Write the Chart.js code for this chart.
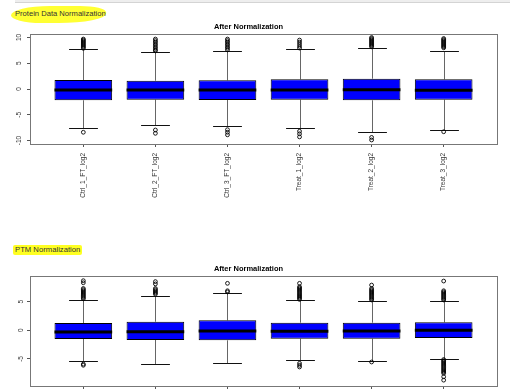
<!DOCTYPE html>
<html>
<head>
<meta charset="utf-8">
<script src="https://cdn.jsdelivr.net/npm/chart.js@4/dist/chart.umd.min.js"></script>
<style>
  html, body { margin: 0; padding: 0; background: #fff; width: 510px; height: 390px; overflow: hidden; }
  body { position: relative; font-family: "Liberation Sans", Arial, sans-serif; }
  .topbar { position: absolute; left: 15px; top: 0; width: 495px; height: 2px; background: #eee; border-bottom: 1px solid #d4d4d4; }
  .hl1 { position: absolute; left: 11px; top: 6px; width: 95px; height: 17px; background: #ffff33; border-radius: 45% 30% 55% 35% / 60% 40% 60% 50%; }
  .hl2 { position: absolute; left: 13px; top: 245px; width: 69px; height: 10px; background: #ffff22; border-radius: 2px; }
  .lbl { position: absolute; color: #333; white-space: nowrap; line-height: 1; }
  canvas { position: absolute; left: 0; }
</style>
</head>
<body>
<div class="topbar"></div>
<div class="hl1"></div>
<div class="lbl" style="left:15px; top:10px; font-size:7.6px;">Protein Data Normalization</div>
<div class="hl2"></div>
<div class="lbl" style="left:15px; top:246px; font-size:7.7px;">PTM Normalization</div>
<canvas id="c1" width="510" height="200" style="top:19px"></canvas>
<canvas id="c2" width="510" height="200" style="top:261px"></canvas>
<script>
const categories = ['Ctrl_1_FT_log2', 'Ctrl_2_FT_log2', 'Ctrl_3_FT_log2', 'Treat_1_log2', 'Treat_2_log2', 'Treat_3_log2'];
const plotTitle = 'After Normalization';

// Protein data normalization
const proteinQ1 = [-2.19, -2.08, -2.14, -2.08, -2.19, -2.08];
const proteinMedian = [-0.19, -0.19, -0.19, -0.19, -0.14, -0.25];
const proteinQ3 = [1.75, 1.61, 1.69, 1.88, 2.0, 1.88];
const proteinWhiskerLow = [-7.51, -6.99, -7.18, -7.63, -8.35, -7.96];
const proteinWhiskerHigh = [7.71, 7.13, 7.38, 7.77, 8.02, 7.44];
const proteinOutliers = [
  [9.7, 9.5, 9.3, 9.1, 8.9, 8.7, 8.5, 8.3, 8.1, 7.9, -8.4],
  [9.7, 9.4, 9.1, 8.8, 8.5, 8.2, 7.9, 7.6, 7.4, -7.96, -8.6],
  [9.7, 9.4, 9.1, 8.8, 8.5, 8.2, 7.9, 7.6, -7.9, -8.4, -8.9],
  [9.5, 9.1, 8.7, 8.3, 7.95, -8.2, -8.7, -9.3],
  [10.0, 9.8, 9.6, 9.4, 9.2, 9.0, 8.8, 8.6, 8.4, 8.2, -9.4, -9.9],
  [9.8, 9.6, 9.4, 9.2, 9.0, 8.8, 8.6, 8.4, 8.2, 8.0, -8.3]
];
const proteinTicks = [-10, -5, 0, 5, 10];

// PTM normalization
const ptmQ1 = [-1.52, -1.69, -1.75, -1.47, -1.47, -1.34];
const ptmMedian = [-0.3, -0.24, -0.12, -0.17, -0.12, 0.0];
const ptmQ3 = [1.27, 1.5, 1.75, 1.33, 1.33, 1.4];
const ptmWhiskerLow = [-5.41, -5.93, -5.65, -5.13, -5.3, -5.0];
const ptmWhiskerHigh = [5.29, 6.04, 6.46, 5.24, 5.17, 5.11];
const ptmOutliers = [
  [8.66, 8.3, 7.3, 7.1, 6.9, 6.7, 6.5, 6.3, 6.1, 5.9, 5.7, 5.5, -5.9, -6.1],
  [8.5, 8.1, 7.3, 7.1, 6.9, 6.7, 6.5, 6.3],
  [8.2, 6.9, 6.7],
  [8.2, 7.6, 7.4, 7.2, 7.0, 6.8, 6.6, 6.4, 6.2, 6.0, 5.8, 5.6, 5.4, -5.76, -6.1, -6.4],
  [7.9, 7.3, 7.1, 6.9, 6.7, 6.5, 6.3, 6.1, 5.9, 5.7, 5.5, 5.3, -5.53],
  [8.6, 6.9, 6.7, 6.5, 6.3, 6.1, 5.9, 5.7, 5.5, 5.3, -5.1, -5.3, -5.5, -5.7, -5.9, -6.1, -6.3, -6.5, -6.7, -6.9, -7.1, -7.3, -7.5, -8.1, -8.7]
];
const ptmTicks = [-5, 0, 5];

const FONT = '"Liberation Sans", Arial, sans-serif';

const boxExtras = {
  id: 'boxExtras',
  beforeDatasetsDraw(chart) {
    const st = chart.$box;
    const yS = chart.scales.y;
    const meta = chart.getDatasetMeta(0);
    const ctx = chart.ctx;
    ctx.save();
    meta.data.forEach((bar, i) => {
      const x = Math.round(bar.x) + 0.5;
      const half = bar.width / 4;
      const yq1 = yS.getPixelForValue(st.q1[i]);
      const yq3 = yS.getPixelForValue(st.q3[i]);
      const ylo = Math.round(yS.getPixelForValue(st.wlo[i])) + 0.5;
      const yhi = Math.round(yS.getPixelForValue(st.whi[i])) + 0.5;
      ctx.strokeStyle = '#666';
      ctx.lineWidth = 1;
      ctx.beginPath();
      ctx.moveTo(x, yq3); ctx.lineTo(x, yhi);
      ctx.moveTo(x, yq1); ctx.lineTo(x, ylo);
      ctx.stroke();
      ctx.strokeStyle = '#111';
      ctx.beginPath();
      ctx.moveTo(x - half, yhi); ctx.lineTo(x + half, yhi);
      ctx.moveTo(x - half, ylo); ctx.lineTo(x + half, ylo);
      ctx.stroke();
    });
    ctx.restore();
  },
  afterDatasetDraw(chart, args) {
    if (args.index !== 0) return;
    const st = chart.$box;
    const yS = chart.scales.y;
    const meta = chart.getDatasetMeta(0);
    const ctx = chart.ctx;
    ctx.save();
    ctx.strokeStyle = '#000';
    ctx.lineWidth = 3;
    meta.data.forEach((bar, i) => {
      const y = yS.getPixelForValue(st.med[i]);
      ctx.beginPath();
      ctx.moveTo(bar.x - bar.width / 2, y);
      ctx.lineTo(bar.x + bar.width / 2, y);
      ctx.stroke();
    });
    ctx.restore();
  },
  afterDraw(chart) {
    const a = chart.chartArea;
    const ctx = chart.ctx;
    ctx.save();
    ctx.strokeStyle = '#777';
    ctx.lineWidth = 1;
    ctx.strokeRect(Math.round(a.left) + 0.5, Math.round(a.top) + 0.5, Math.round(a.right - a.left), Math.round(a.bottom - a.top));
    ctx.restore();
  }
};

function makeChart(id, stats, outliers, yMin, yMax, yTicks) {
  const boxData = categories.map((c, i) => ({ x: i + 1, y: [stats.q1[i], stats.q3[i]] }));
  const outData = [];
  outliers.forEach((list, i) => list.forEach(v => outData.push({ x: i + 1, y: v })));
  const statsPlugin = { id: 'stats', beforeInit(chart) { chart.$box = stats; } };
  return new Chart(document.getElementById(id), {
    type: 'bar',
    data: {
      datasets: [
        {
          type: 'bar',
          data: boxData,
          backgroundColor: '#0000ff',
          borderColor: '#000',
          borderWidth: 1,
          borderSkipped: false,
          barPercentage: 0.8,
          categoryPercentage: 1,
          order: 2
        },
        {
          type: 'scatter',
          data: outData,
          pointRadius: 1.9,
          pointBorderWidth: 0.9,
          pointBorderColor: '#000',
          pointBackgroundColor: 'rgba(255,255,255,0)',
          showLine: false,
          order: 1
        }
      ]
    },
    options: {
      responsive: false,
      animation: false,
      devicePixelRatio: 1,
      layout: { padding: { left: 0, right: 13, top: 0, bottom: 0 } },
      plugins: {
        legend: { display: false },
        tooltip: { enabled: false },
        title: {
          display: true,
          text: plotTitle,
          color: '#000',
          font: { family: FONT, size: 7.5, weight: 'bold', lineHeight: '11px' },
          padding: { top: 2, bottom: 2 }
        }
      },
      scales: {
        x: {
          type: 'linear',
          min: 0.26,
          max: 6.74,
          offset: false,
          afterBuildTicks: s => { s.ticks = categories.map((c, i) => ({ value: i + 1 })); },
          afterFit: s => { s.height = 75; },
          grid: { display: true, offset: false, drawOnChartArea: false, drawTicks: true, tickLength: 3, tickColor: '#555' },
          border: { display: false },
          ticks: {
            autoSkip: false,
            minRotation: 90,
            maxRotation: 90,
            padding: 6,
            color: '#333',
            font: { family: FONT, size: 6.5 },
            callback: v => categories[Math.round(v) - 1]
          }
        },
        y: {
          type: 'linear',
          min: yMin,
          max: yMax,
          afterBuildTicks: s => { s.ticks = yTicks.map(v => ({ value: v })); },
          afterFit: s => { s.width = 30; },
          grid: { display: true, drawOnChartArea: false, drawTicks: true, tickLength: 3, tickColor: '#555' },
          border: { display: false },
          ticks: {
            minRotation: 90,
            maxRotation: 90,
            crossAlign: 'center',
            padding: 3,
            color: '#333',
            font: { family: FONT, size: 6.5 }
          }
        }
      }
    },
    plugins: [statsPlugin, boxExtras]
  });
}

makeChart('c1',
  { q1: proteinQ1, med: proteinMedian, q3: proteinQ3, wlo: proteinWhiskerLow, whi: proteinWhiskerHigh },
  proteinOutliers, -10.68, 10.68, proteinTicks);
makeChart('c2',
  { q1: ptmQ1, med: ptmMedian, q3: ptmQ3, wlo: ptmWhiskerLow, whi: ptmWhiskerHigh },
  ptmOutliers, -9.72, 9.48, ptmTicks);
</script>
</body>
</html>
